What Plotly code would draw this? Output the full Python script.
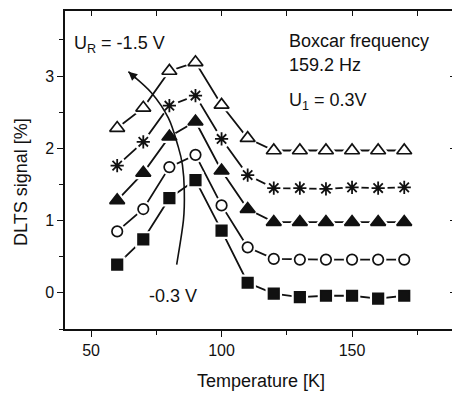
import plotly.graph_objects as go

# ---- data ----
temperature = [60, 70, 80, 90, 100, 110, 120, 130, 140, 150, 160, 170]
sig_tri_open = [2.28, 2.56, 3.07, 3.19, 2.60, 2.14, 1.97, 1.97, 1.97, 1.97, 1.97, 1.97]
sig_star = [1.76, 2.09, 2.59, 2.73, 2.13, 1.63, 1.45, 1.45, 1.44, 1.46, 1.45, 1.46]
sig_tri_fill = [1.28, 1.66, 2.16, 2.37, 1.69, 1.16, 0.98, 0.98, 0.98, 0.98, 0.98, 0.98]
sig_circle = [0.85, 1.16, 1.74, 1.91, 1.21, 0.63, 0.47, 0.46, 0.46, 0.46, 0.46, 0.46]
sig_square = [0.39, 0.74, 1.31, 1.56, 0.86, 0.14, -0.01, -0.06, -0.04, -0.04, -0.08, -0.04]

x_ticks = [50, 100, 150]
y_ticks = [0, 1, 2, 3]

# guide curve (U_R trend) control points, data coordinates
curve_T = [82.8, 85.4, 85.7, 85.0, 83.4, 79.6, 73.1, 64.3]
curve_S = [0.39, 1.01, 1.43, 1.77, 2.02, 2.42, 2.77, 3.06]

FONT = "Liberation Sans, Arial, sans-serif"
INK = "#111111"

series = [
    (sig_tri_open, "triangle-up", "white", 13),
    (sig_star, "asterisk", None, 11),
    (sig_tri_fill, "triangle-up", INK, 13),
    (sig_circle, "circle", "white", 10.5),
    (sig_square, "square", INK, 10.5),
]

fig = go.Figure()
for vals, sym, fill, size in series:
    fig.add_trace(go.Scatter(x=temperature, y=vals, mode="lines",
                             line=dict(color=INK, width=1.8),
                             hoverinfo="skip", showlegend=False))
    # white halo for gaps between line and marker
    halo_sym = "circle" if sym == "asterisk" else sym
    halo_size = 13 if sym == "asterisk" else size
    fig.add_trace(go.Scatter(x=temperature, y=vals, mode="markers",
                             marker=dict(symbol=halo_sym, size=halo_size, color="white",
                                         line=dict(color="white", width=6)),
                             hoverinfo="skip", showlegend=False))
    if sym == "asterisk":
        mk = dict(symbol="asterisk", size=size, color=INK, line=dict(color=INK, width=1.8))
    else:
        mk = dict(symbol=sym, size=size, color=fill, line=dict(color=INK, width=1.7))
    fig.add_trace(go.Scatter(x=temperature, y=vals, mode="markers", marker=mk,
                             showlegend=False))

# empty trace to activate mirrored axes
fig.add_trace(go.Scatter(x=[], y=[], xaxis="x2", yaxis="y2", showlegend=False))

# smooth guide curve via Catmull-Rom -> cubic Bezier
pts = list(zip(curve_T, curve_S))
path = f"M {pts[0][0]},{pts[0][1]}"
for i in range(len(pts) - 1):
    p0 = pts[i - 1] if i > 0 else pts[i]
    p1, p2 = pts[i], pts[i + 1]
    p3 = pts[i + 2] if i + 2 < len(pts) else pts[i + 1]
    c1 = (p1[0] + (p2[0] - p0[0]) / 6, p1[1] + (p2[1] - p0[1]) / 6)
    c2 = (p2[0] - (p3[0] - p1[0]) / 6, p2[1] - (p3[1] - p1[1]) / 6)
    path += f" C {c1[0]},{c1[1]} {c2[0]},{c2[1]} {p2[0]},{p2[1]}"
fig.add_shape(type="path", path=path, xref="x", yref="y",
              line=dict(color=INK, width=1.6))
fig.add_annotation(x=curve_T[-1], y=curve_S[-1], xref="x", yref="y",
                   ax=9, ay=8, showarrow=True, arrowhead=2, arrowsize=1.1,
                   arrowwidth=1.6, arrowcolor=INK, text="")

xr = [40, 188.3]
yr = [-0.5, 3.9]
axis_common = dict(showgrid=False, zeroline=False, linecolor=INK, linewidth=1.5,
                   tickcolor=INK, tickwidth=1.3)

fig.update_layout(
    width=452, height=393,
    margin=dict(l=65, r=0, t=11, b=64),
    paper_bgcolor="white", plot_bgcolor="white",
    font=dict(family=FONT, size=16, color=INK),
    xaxis=dict(range=xr, tickvals=x_ticks, ticks="outside", ticklen=6,
               showline=True,
               minor=dict(dtick=25, tick0=0, ticks="outside", ticklen=4,
                          tickcolor=INK, tickwidth=1.3),
               tickfont=dict(size=16), **axis_common),
    yaxis=dict(range=yr, tickvals=y_ticks, ticks="outside", ticklen=6,
               showline=True,
               minor=dict(dtick=0.5, tick0=0, ticks="outside", ticklen=4,
                          tickcolor=INK, tickwidth=1.3),
               tickfont=dict(size=16), **axis_common),
    xaxis2=dict(range=xr, overlaying="x", side="top", anchor="y",
                tickvals=x_ticks, ticks="inside", ticklen=5, showticklabels=False,
                showline=True,
                minor=dict(dtick=25, tick0=0, ticks="inside", ticklen=5,
                           tickcolor=INK, tickwidth=1.3),
                **axis_common),
    yaxis2=dict(range=yr, overlaying="y", side="right", anchor="x",
                tickvals=y_ticks, ticks="inside", ticklen=2, showticklabels=False,
                showline=False, **axis_common),
)

ann = dict(xref="paper", yref="paper", showarrow=False, font=dict(size=18, color=INK))
fig.add_annotation(x=(72 - 65) / 387, y=(329 - 45) / 318, xanchor="left", yanchor="middle",
                   text="U<sub>R</sub> = -1.5 V", **ann)
fig.add_annotation(x=(287 - 65) / 387, y=(329 - 41) / 318, xanchor="left", yanchor="middle",
                   text="Boxcar frequency", **ann)
fig.add_annotation(x=(287 - 65) / 387, y=(329 - 65) / 318, xanchor="left", yanchor="middle",
                   text="159.2 Hz", **ann)
fig.add_annotation(x=(287 - 65) / 387, y=(329 - 101) / 318, xanchor="left", yanchor="middle",
                   text="U<sub>1</sub> = 0.3V", **ann)
fig.add_annotation(x=(172.5 - 65) / 387, y=(329 - 296) / 318, xanchor="center", yanchor="middle",
                   text="-0.3 V", **ann)
# axis titles
fig.add_annotation(x=(261 - 65) / 387, y=(329 - 381) / 318, xanchor="center", yanchor="middle",
                   text="Temperature [K]", **ann)
fig.add_annotation(x=(21 - 65) / 387, y=(329 - 182) / 318, xanchor="center", yanchor="middle",
                   textangle=-90, text="DLTS signal [%]", **ann)

fig.write_html("out.html")
